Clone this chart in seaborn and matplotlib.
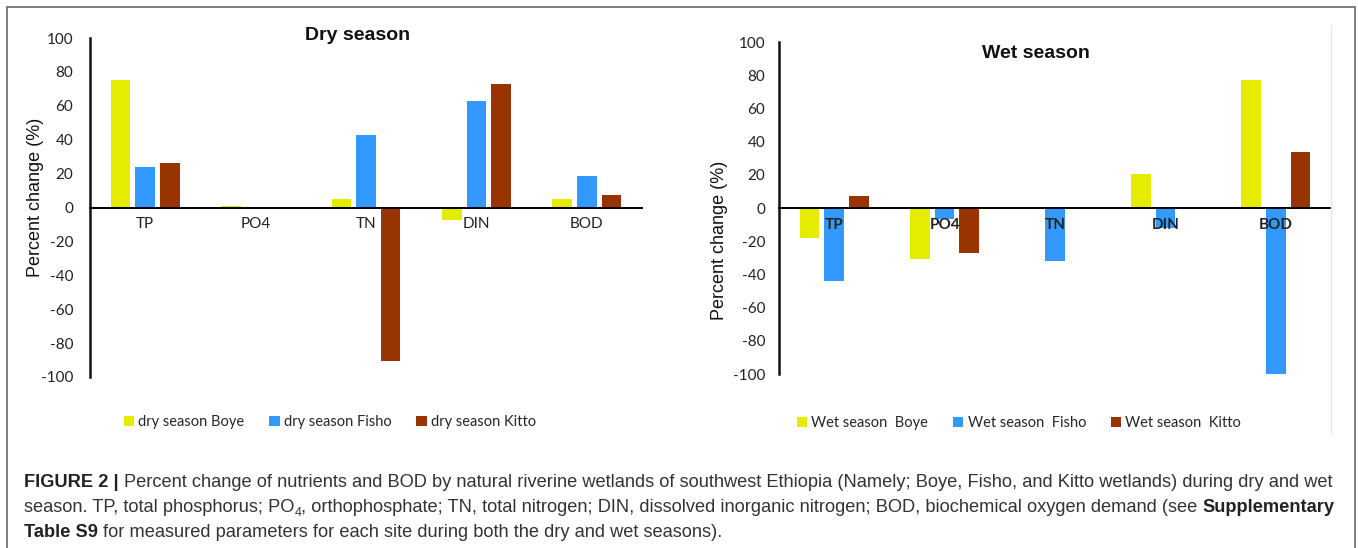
import pandas as pd
import matplotlib.pyplot as plt
import seaborn as sns
from matplotlib.patches import Rectangle
from matplotlib.lines import Line2D

sns.set_style("white")
plt.rcParams['font.family'] = ['Lato', 'DejaVu Sans']
plt.rcParams['axes.unicode_minus'] = False

W, H = 1358, 548

# datos
parametros = ['TP', 'PO4', 'TN', 'DIN', 'BOD']
sitios_dry = ['dry season Boye', 'dry season Fisho', 'dry season Kitto']
sitios_wet = ['Wet season  Boye', 'Wet season  Fisho', 'Wet season  Kitto']

dry_boye = [75, 0.7, 5.3, -7.5, 5.3]
dry_fisho = [24, 0, 43, 62.7, 18.8]
dry_kitto = [26.4, 0, -90.8, 73, 7.4]

wet_boye = [-18, -30.5, 0, 20.5, 77.3]
wet_fisho = [-43.7, -6.5, -31.7, -12, -100]
wet_kitto = [7.3, -27, 0, 0, 33.5]

yticks = list(range(-100, 101, 20))
colores = ['#E5EC00', '#3399FF', '#993300']


def tabla(sitios, series):
    filas = []
    for sitio, valores in zip(sitios, series):
        for p, v in zip(parametros, valores):
            filas.append({'param': p, 'sitio': sitio, 'valor': v})
    return pd.DataFrame(filas)


df_dry = tabla(sitios_dry, [dry_boye, dry_fisho, dry_kitto])
df_wet = tabla(sitios_wet, [wet_boye, wet_fisho, wet_kitto])

fig = plt.figure(figsize=(W / 100, H / 100), dpi=100)

# marco exterior
fig.add_artist(Rectangle((7 / W, -0.05), (1355 - 7) / W, 1.05 - 7 / H,
                         transform=fig.transFigure, fill=False,
                         edgecolor='#666666', linewidth=1.2))
fig.add_artist(Line2D([1331 / W, 1331 / W], [1 - 25 / H, 1 - 433 / H],
                      transform=fig.transFigure, color='#e6e6e6', linewidth=1))

ax1 = fig.add_axes([90 / W, 1 - 377 / H, 552 / W, 339 / H])
ax2 = fig.add_axes([779 / W, 1 - 374 / H, 552 / W, 332 / H])

paneles = [
    (ax1, df_dry, 'normal', 12, (36, 197), (358, 36, 'Dry season'), (330, 422)),
    (ax2, df_wet, 'bold', 10, (719, 240), (1036, 53, 'Wet season'), (1019, 423)),
]

for ax, df, peso, ypad, ylab, titulo, leg in paneles:
    sns.barplot(data=df, x='param', y='valor', hue='sitio', palette=colores,
                saturation=1, width=0.667, gap=0.2, errorbar=None,
                linewidth=0, ax=ax)
    ax.set_axisbelow(False)
    ax.set_ylim(-100, 100)
    ax.set_yticks(yticks)
    ax.set_yticklabels([str(t) for t in yticks], fontsize=11, color='#222222')
    ax.set_xlabel('')
    ax.set_ylabel('')
    ax.set_facecolor('none')
    for s in ['top', 'right']:
        ax.spines[s].set_visible(False)
    ax.spines['bottom'].set_position(('data', 0))
    ax.spines['bottom'].set_color('black')
    ax.spines['bottom'].set_linewidth(1.4)
    ax.spines['left'].set_color('#111111')
    ax.spines['left'].set_linewidth(1.8)
    ax.tick_params(axis='both', length=0)
    ax.tick_params(axis='y', pad=ypad)
    ax.tick_params(axis='x', pad=7)
    for lbl in ax.get_xticklabels():
        lbl.set_fontsize(11)
        lbl.set_fontweight(peso)
        lbl.set_color('#222222')

    fig.text(ylab[0] / W, 1 - ylab[1] / H, 'Percent change (%)', rotation=90,
             ha='center', va='center', fontsize=13, color='#111111',
             family='Liberation Sans')
    fig.text(titulo[0] / W, 1 - titulo[1] / H, titulo[2], ha='center',
             va='center', fontsize=14, fontweight='bold', color='#111111',
             family='Liberation Sans')
    sns.move_legend(ax, loc='center', bbox_to_anchor=(leg[0] / W, 1 - leg[1] / H),
                    bbox_transform=fig.transFigure, ncol=3, frameon=False,
                    title=None, fontsize=10.5, handlelength=0.7, handleheight=0.7,
                    handletextpad=0.3, columnspacing=1.7)

# pie de figura con tramos en negrita y subíndice
cap_size = 13.15
cap_fam = 'Liberation Sans'
renderer = fig.canvas.get_renderer()


def ancho(txt, size, weight='normal'):
    t = fig.text(0, 0, txt, fontsize=size, fontweight=weight, family=cap_fam)
    w = t.get_window_extent(renderer).width
    t.remove()
    return w


espacio = ancho('a a', cap_size) - ancho('aa', cap_size)


def linea(y_px, tramos):
    x = 24
    for txt, estilo in tramos:
        if txt == ' ':
            x += espacio
            continue
        size = cap_size * 0.7 if estilo == 'sub' else cap_size
        yy = y_px + 4 if estilo == 'sub' else y_px
        peso = 'bold' if estilo == 'bold' else 'normal'
        color = '#222222' if estilo == 'bold' else '#333333'
        t = fig.text(x / W, 1 - yy / H, txt, fontsize=size, fontweight=peso,
                     family=cap_fam, color=color, va='baseline', ha='left')
        x = t.get_window_extent(renderer).x1


linea(487, [('FIGURE 2 |', 'bold'), (' ', None),
            ('Percent change of nutrients and BOD by natural riverine wetlands of southwest '
             'Ethiopia (Namely; Boye, Fisho, and Kitto wetlands) during dry and wet', 'n')])
linea(512, [('season. TP, total phosphorus; PO', 'n'), ('4', 'sub'),
            (', orthophosphate; TN, total nitrogen; DIN, dissolved inorganic nitrogen; BOD, '
             'biochemical oxygen demand (see', 'n'), (' ', None), ('Supplementary', 'bold')])
linea(537, [('Table S9', 'bold'), (' ', None),
            ('for measured parameters for each site during both the dry and wet seasons).', 'n')])

fig.savefig('out.png', dpi=100)
